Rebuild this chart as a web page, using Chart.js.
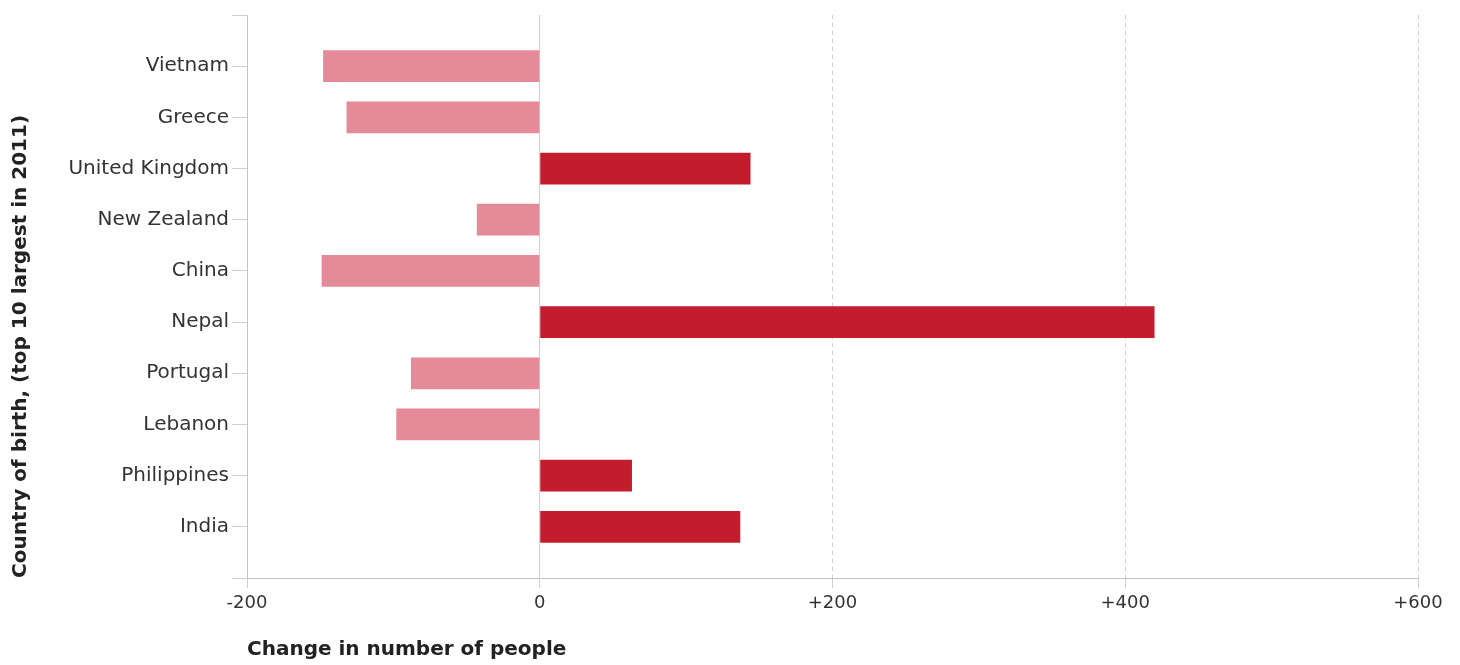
<!DOCTYPE html>
<html>
<head>
<meta charset="utf-8">
<script src="https://cdn.jsdelivr.net/npm/chart.js@4"></script>
<style>
  html, body { margin: 0; padding: 0; background: #fff; }
  #wrap { width: 1460px; height: 665px; }
</style>
</head>
<body>
<div id="wrap"><canvas id="chart"></canvas></div>
<script>
const countries = ['Vietnam', 'Greece', 'United Kingdom', 'New Zealand', 'China',
    'Nepal', 'Portugal', 'Lebanon', 'Philippines', 'India'];
const changes = [-148, -132, 144, -43, -149, 420, -88, -98, 63, 137];
const xTicks = [-200, 0, 200, 400, 600];

const fallColor = '#e48a98';
const riseColor = '#c31c2d';
const gridColor = '#cfcfcf';

// first country at the top: row index counts down from n-1
const n = countries.length;
const rowOf = i => n - 1 - i;
const points = changes.map((v, i) => ({ x: v, y: rowOf(i) }));

const ctx = document.getElementById('chart').getContext('2d');

new Chart(ctx, {
    type: 'bar',
    data: {
        datasets: [{
            data: points,
            backgroundColor: changes.map(v => v < 0 ? fallColor : riseColor),
            borderWidth: 0,
            categoryPercentage: 1,
            barPercentage: 0.62
        }]
    },
    options: {
        indexAxis: 'y',
        responsive: true,
        maintainAspectRatio: false,
        animation: false,
        layout: { padding: { top: 14, right: 42, left: 0, bottom: 0 } },
        plugins: {
            legend: { display: false },
            tooltip: { enabled: false }
        },
        scales: {
            x: {
                type: 'linear',
                min: xTicks[0],
                max: xTicks[xTicks.length - 1],
                afterBuildTicks: scale => {
                    scale.ticks = xTicks.map(v => ({ value: v }));
                },
                afterFit: scale => { scale.height = 87; },
                grid: {
                    color: gridColor,
                    tickColor: gridColor,
                    tickLength: 10,
                    lineWidth: 1
                },
                border: {
                    display: true,
                    color: '#c4c4c4',
                    dash: c => (c.tick && c.tick.value > 0) ? [4, 4] : []
                },
                ticks: {
                    color: '#333',
                    padding: 5,
                    font: { family: 'DejaVu Sans', size: 18 },
                    callback: v => v > 0 ? '+' + v : String(v)
                },
                title: {
                    display: true,
                    text: 'Change in number of people',
                    align: 'start',
                    color: '#222',
                    font: { family: 'DejaVu Sans', size: 20, weight: 'bold' },
                    padding: { top: 3, bottom: 3 }
                }
            },
            y: {
                type: 'linear',
                offset: false,
                min: -1,
                max: n,
                afterBuildTicks: scale => {
                    const t = [];
                    for (let i = -1; i <= n; i++) t.push({ value: i });
                    scale.ticks = t;
                },
                afterFit: scale => { scale.width = 247; },
                grid: {
                    offset: false,
                    drawOnChartArea: false,
                    color: gridColor,
                    tickColor: gridColor,
                    tickLength: 15
                },
                border: { display: true, color: '#c4c4c4' },
                ticks: {
                    color: '#333',
                    padding: 3,
                    font: { family: 'DejaVu Sans', size: 20 },
                    callback: v => countries[rowOf(v)] || ''
                },
                title: {
                    display: true,
                    text: 'Country of birth, (top 10 largest in 2011)',
                    align: 'start',
                    color: '#222',
                    font: { family: 'DejaVu Sans', size: 20, weight: 'bold' },
                    padding: { top: 9, bottom: 9 }
                }
            }
        }
    }
});
</script>
</body>
</html>
